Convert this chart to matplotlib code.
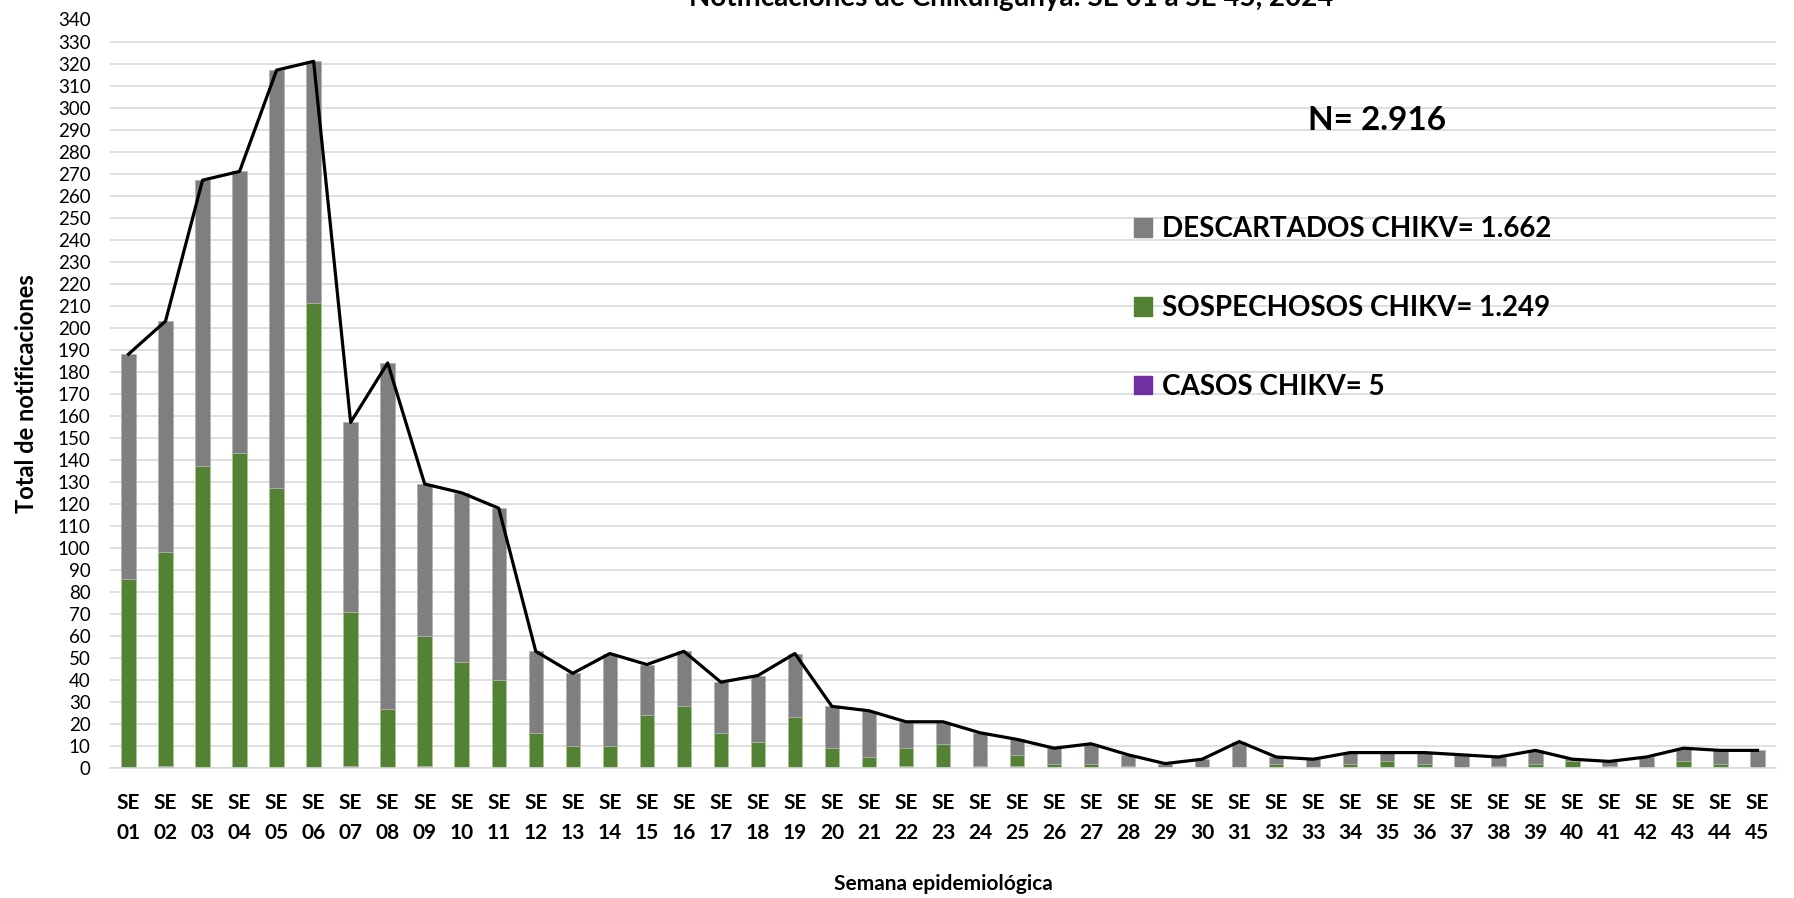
import numpy as np
import matplotlib.pyplot as plt
from matplotlib.patches import Patch

plt.rcParams['font.family'] = ['Lato', 'DejaVu Sans']

# semanas epidemiologicas SE 01 .. SE 45
semanas = ['SE\n%02d' % i for i in range(1, 46)]

casos = [0, 1, 0, 0, 0, 0, 1, 0, 1, 0, 0, 0, 0, 0, 0, 0, 0, 0, 0, 0, 0, 1, 0,
         0, 1, 0, 0, 0, 0, 0, 0, 0, 0, 0, 0, 0, 0, 0, 0, 0, 0, 0, 0, 0, 0]
sospechosos = [86, 97, 137, 143, 127, 211, 70, 27, 59, 48, 40, 16, 10, 10, 24,
               28, 16, 12, 23, 9, 5, 8, 11, 1, 5, 2, 2, 1, 0, 0, 0, 2, 0, 2,
               3, 2, 0, 1, 2, 3, 1, 0, 3, 2, 0]
descartados = [102, 105, 130, 128, 190, 110, 86, 157, 69, 77, 78, 37, 33, 42,
               23, 25, 23, 30, 29, 19, 21, 12, 10, 15, 7, 7, 9, 5, 2, 4, 12,
               3, 4, 5, 4, 5, 6, 4, 6, 1, 2, 5, 6, 6, 8]
total = [188, 203, 267, 271, 317, 321, 157, 184, 129, 125, 118, 53, 43, 52, 47,
         53, 39, 42, 52, 28, 26, 21, 21, 16, 13, 9, 11, 6, 2, 4, 12, 5, 4, 7,
         7, 7, 6, 5, 8, 4, 3, 5, 9, 8, 8]

etiquetas = ['DESCARTADOS CHIKV= 1.662', 'SOSPECHOSOS CHIKV= 1.249', 'CASOS CHIKV= 5']
c_gris = '#7f7f7f'
c_verde = '#548235'
c_morado = '#7030a0'

x = np.arange(len(semanas))
casos = np.array(casos)
sospechosos = np.array(sospechosos)
descartados = np.array(descartados)

W, H = 1794, 898
fig = plt.figure(figsize=(W / 100, H / 100), dpi=100)
ax = fig.add_axes([110 / W, 1 - 768 / H, (1776 - 110) / W, (768 - 19.5) / H])

bw = 0.39
ax.bar(x, casos, bw, color=c_morado, edgecolor='#b4a0c8', linewidth=0.5)
ax.bar(x, sospechosos, bw, bottom=casos, color=c_verde, edgecolor='#a9c98f', linewidth=0.5)
ax.bar(x, descartados, bw, bottom=casos + sospechosos, color=c_gris,
       edgecolor='#b0b0b0', linewidth=0.5)
ax.plot(x, total, color='black', linewidth=2.3, zorder=5)

ax.set_xlim(-0.5, len(semanas) - 0.5)
ax.set_ylim(0, 340)
ax.set_yticks(np.arange(0, 341, 10))
ax.set_xticks(x)
ax.set_xticklabels(semanas, fontsize=15, fontweight='bold', linespacing=1.6)
ax.tick_params(axis='x', length=0, pad=18)
ax.tick_params(axis='y', length=0, pad=14, labelsize=13.5)
ax.grid(axis='y', color='#d9d9d9', linewidth=1.2)
ax.set_axisbelow(True)
for s in ['top', 'right', 'left']:
    ax.spines[s].set_visible(False)
ax.spines['bottom'].set_color('#d9d9d9')
ax.spines['bottom'].set_linewidth(1.2)

ax.set_ylabel('Total de notificaciones', fontsize=17, fontweight='bold')
ax.yaxis.set_label_coords(-72 / (1776 - 110), 0.5)
ax.set_xlabel('Semana epidemiológica', fontsize=15, fontweight='bold', va='center')
ax.xaxis.set_label_coords(0.5, -(884 - 768) / (768 - 19.5))

fig.text(1011 / W, 1 - 6 / H, 'Notificaciones de Chikungunya: SE 01 a SE 45, 2024',
         ha='center', va='baseline', fontsize=20, fontweight='bold')
fig.text(1377 / W, 1 - 121 / H, 'N= 2.916', ha='center', va='center',
         fontsize=24, fontweight='bold')

handles = [Patch(color=c_gris), Patch(color=c_verde), Patch(color=c_morado)]
fig.legend(handles, etiquetas, loc='center left', bbox_to_anchor=(1134 / W, 1 - 308 / H),
           frameon=False, prop={'size': 20, 'weight': 'bold'}, handlelength=0.65,
           handleheight=0.65, handletextpad=0.35, labelspacing=1.9, borderaxespad=0,
           borderpad=0)

fig.savefig('out.png', dpi=100)
